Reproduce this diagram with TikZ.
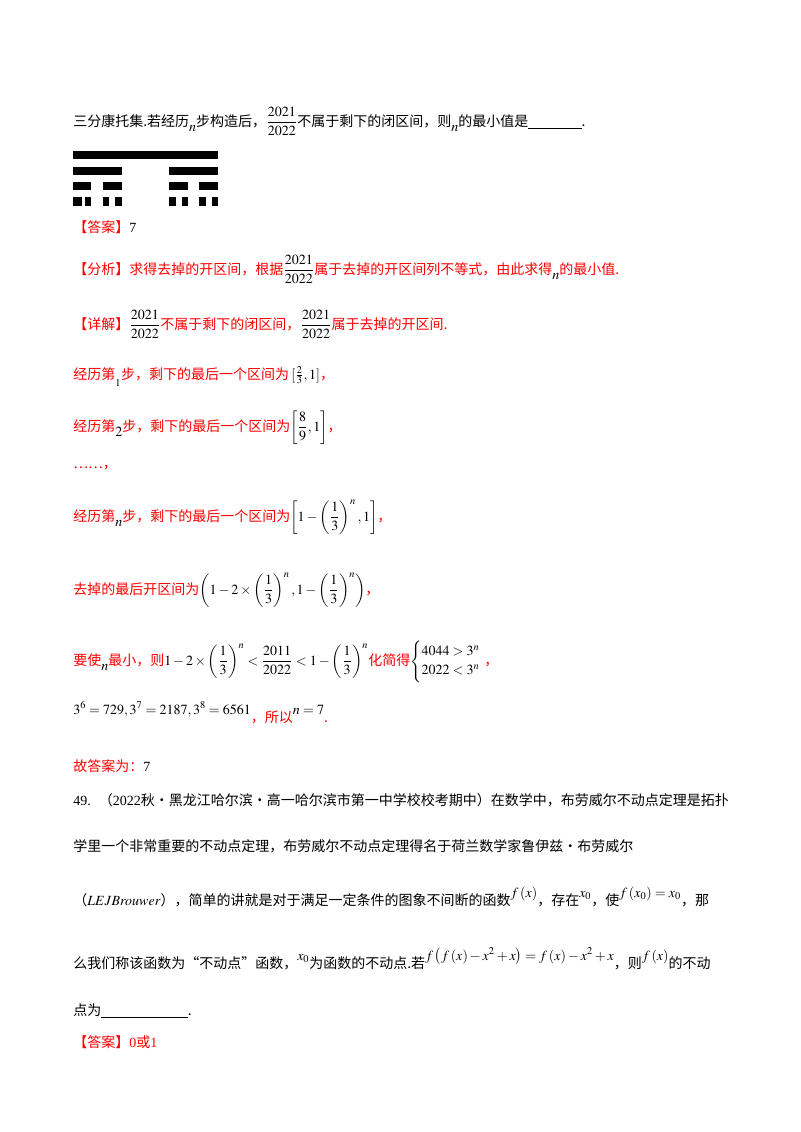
\documentclass[tikz,border=0pt]{standalone}
\usepackage{amsmath}
\usepackage{mathptmx}
\usepackage{fontspec}
\setmainfont{Noto Sans CJK SC}
\newfontfamily\lat{Liberation Serif}
\newcommand{\lo}[1]{\raisebox{-4pt}{#1}}
\newcommand{\hi}[1]{\raisebox{6pt}{#1}}
\newcommand{\bk}[1]{{\color{black}#1}}
\begin{document}
\begin{tikzpicture}[x=0.75pt,y=-0.75pt,
  t/.style={anchor=base west,inner sep=0pt,font=\fontsize{10.5}{12}\selectfont},
  r/.style={t,text=red},
  bar/.style={fill=black,draw=none}]
\useasboundingbox (0,0) rectangle (800,1132);
\fill[white] (0,0) rectangle (800,1132);
\node[t] (l1) at (73,126) {三分康托集.若经历\lo{$n$}步构造后，$\dfrac{2021}{2022}$不属于剩下的闭区间，则\lo{$n$}的最小值是\underline{\hspace{40pt}}.};
% Cantor bars
\fill[bar] (73,151) rectangle (218,159);
\foreach \a/\b in {73/122,169/218} \fill[bar] (\a,167) rectangle (\b,175);
\foreach \a/\b in {73/91,103/122,169/188,199/218} \fill[bar] (\a,182) rectangle (\b,190);
\foreach \a/\b in {73/82,85/91,103/109,115/122,169/176,182/188,199/206,212/218} \fill[bar] (\a,197) rectangle (\b,206);
\node[r] (a1) at (73,232) {【答案】\bk{\lat 7}};
\node[r] (a2) at (73,274) {【分析】求得去掉的开区间，根据\bk{$\dfrac{2021}{2022}$}属于去掉的开区间列不等式，由此求得\lo{\bk{$n$}}的最小值.};
\node[r] (a3) at (73,329) {【详解】\bk{$\dfrac{2021}{2022}$}不属于剩下的闭区间，\bk{$\dfrac{2021}{2022}$}属于去掉的开区间.};
\node[r] (a4) at (73,379) {经历第\lo{\bk{$_1$}}步，剩下的最后一个区间为\,\bk{$[\tfrac{2}{3},1]$}，};
\node[r] (a5) at (73,431) {经历第\lo{\bk{$2$}}步，剩下的最后一个区间为\bk{$\left[\dfrac{8}{9},1\right]$}，};
\node[r] (a6) at (73,468) {……，};
\node[r] (a7) at (73,521) {经历第\lo{\bk{$n$}}步，剩下的最后一个区间为\bk{$\left[1-\left(\dfrac{1}{3}\right)^{n},1\right]$}，};
\node[r] (a8) at (73,594) {去掉的最后开区间为\bk{$\left(1-2\times\left(\dfrac{1}{3}\right)^{n},1-\left(\dfrac{1}{3}\right)^{n}\right)$}，};
\node[r] (a9) at (73,665) {要使\lo{\bk{$n$}}最小，则\bk{$1-2\times\left(\dfrac{1}{3}\right)^{n}<\dfrac{2011}{2022}<1-\left(\dfrac{1}{3}\right)^{n}$}化简得\bk{$\begin{cases}4044>3^{n}\\ 2022<3^{n}\end{cases}$}\hspace{-8pt}，};
\node[r] (a10) at (73,722) {\hi{\bk{$3^6=729,3^7=2187,3^8=6561$}}，所以\hi{\bk{$n=7$}}.};
\node[r] (a11) at (73,771) {故答案为：\bk{\lat 7}};
\node[t] (q1) at (73,805) {{\lat 49.}\hspace{6pt}（{\lat 2022}秋·黑龙江哈尔滨·高一哈尔滨市第一中学校校考期中）在数学中，布劳威尔不动点定理是拓扑};
\node[t] (q2) at (73,851) {学里一个非常重要的不动点定理，布劳威尔不动点定理得名于荷兰数学家鲁伊兹·布劳威尔};
\node[t] (q3) at (73,905) {（$LEJBrouwer$），简单的讲就是对于满足一定条件的图象不间断的函数\hi{$f\left(x\right)$}，存在\hi{$x_0$}，使\hi{$f\left(x_0\right)=x_0$}，那};
\node[t] (q4) at (73,968) {么我们称该函数为“不动点”函数，\hi{$x_0$}为函数的不动点.若\hi{$f\left(f\left(x\right)-x^2+x\right)=f\left(x\right)-x^2+x$}，则\hi{$f\left(x\right)$}的不动};
\node[t] (q5) at (73,1015) {点为\underline{\hspace{65pt}}.};
\node[r] (q6) at (73,1047) {【答案】{\lat 0}或{\lat 1}};
\end{tikzpicture}
\end{document}
